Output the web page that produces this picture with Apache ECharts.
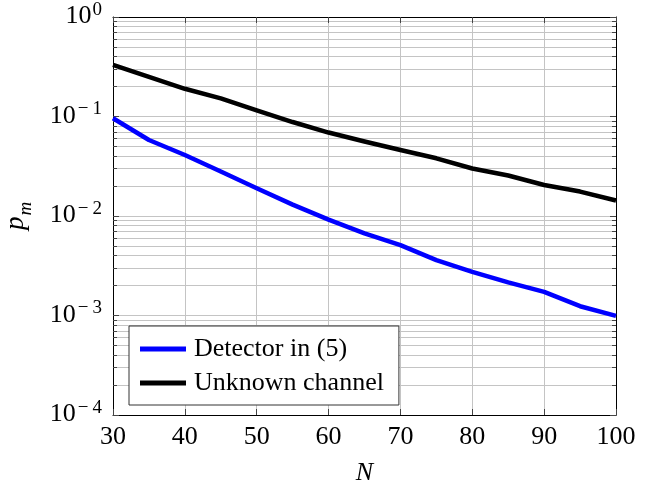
<!DOCTYPE html>
<html><head><meta charset="utf-8">
<script src="https://cdn.jsdelivr.net/npm/echarts@6/dist/echarts.min.js"></script>
<style>html,body{margin:0;padding:0;background:#fff}#c{width:648px;height:485px}</style>
</head><body><div id="c"></div>
<script>
const nValues = [30,35,40,45,50,55,60,65,70,75,80,85,90,95,100];
const detectorPm = [0.096,0.058,0.041,0.028,0.019,0.013,0.0092,0.0067,0.0051,0.0036,0.00275,0.00215,0.00173,0.00124,0.00099];
const unknownPm = [0.33,0.25,0.19,0.152,0.115,0.088,0.069,0.056,0.046,0.038,0.030,0.0255,0.0205,0.0176,0.0143];
const seriesNames = ['Detector in (5)','Unknown channel'];
const xRange = [30, 100];
const yRange = [1e-4, 1];

const FONT = 'Liberation Serif';
const chart = echarts.init(document.getElementById('c'));
function pairs(ys){ return nValues.map((x,i)=>[x, ys[i]]); }
function yFmt(v){
  const e = Math.round(Math.log10(v));
  return e < 0 ? '{b|10}{m|\u2212}{e|' + (-e) + '}' : '{b|10}{e|' + e + '}';
}
const gridLine = {show:true, lineStyle:{color:'#c4c4c4', width:1}};
const tickIn = {show:true, inside:true, length:6, lineStyle:{color:'#444', width:1}};
const minorTickIn = {show:true, splitNumber:9, length:4, lineStyle:{color:'#444', width:1}};
chart.setOption({
  animation:false,
  backgroundColor:'#fff',
  grid:{left:113, right:32, top:17, bottom:70, containLabel:false, outerBoundsMode:'none'},
  legend:{
    orient:'vertical', left:129, top:326,
    backgroundColor:'#fff', borderColor:'#333', borderWidth:1,
    padding:[10,15,9,11], itemGap:8,
    itemWidth:46, itemHeight:5, icon:'rect',
    textStyle:{fontFamily:FONT, fontSize:26, color:'#000', lineHeight:25, padding:[0,0,0,3]},
    data:seriesNames
  },
  xAxis:[{
    type:'value', min:xRange[0], max:xRange[1], interval:10,
    name:'N', nameLocation:'middle', nameGap:45,
    nameTextStyle:{fontFamily:FONT, fontStyle:'italic', fontSize:26, color:'#000'},
    axisLine:{show:true, onZero:false, lineStyle:{color:'#000', width:1}},
    axisTick:tickIn,
    axisLabel:{fontFamily:FONT, fontSize:26, color:'#000', margin:9},
    splitLine:gridLine
  },{
    type:'value', position:'top', min:xRange[0], max:xRange[1], interval:10,
    axisLine:{show:true, onZero:false, lineStyle:{color:'#000', width:1}},
    axisTick:tickIn, axisLabel:{show:false}, splitLine:{show:false}
  }],
  yAxis:[{
    type:'log', logBase:10, min:yRange[0], max:yRange[1],
    name:'{p|p}{m|m}', nameLocation:'middle', nameGap:84,
    nameTextStyle:{rich:{
      p:{fontFamily:FONT, fontStyle:'italic', fontSize:27, color:'#000', lineHeight:26, verticalAlign:'bottom'},
      m:{fontFamily:FONT, fontStyle:'italic', fontSize:19, color:'#000', lineHeight:18, verticalAlign:'bottom', padding:[0,0,-6,1]}
    }},
    axisLine:{show:true, onZero:false, lineStyle:{color:'#000', width:1}},
    axisTick:tickIn,
    minorTick:minorTickIn,
    axisLabel:{formatter:yFmt, margin:11, rich:{
      b:{fontFamily:FONT, fontSize:26, color:'#000', lineHeight:25, verticalAlign:'bottom', padding:[8,0,0,0]},
      m:{fontFamily:FONT, fontSize:19, color:'#000', lineHeight:18, verticalAlign:'bottom', padding:[0,3,10,2]},
      e:{fontFamily:FONT, fontSize:19, color:'#000', lineHeight:18, verticalAlign:'bottom', padding:[0,0,10,1]}
    }},
    splitLine:gridLine,
    minorSplitLine:gridLine
  },{
    type:'log', logBase:10, min:yRange[0], max:yRange[1], position:'right',
    axisLine:{show:true, onZero:false, lineStyle:{color:'#000', width:1}},
    axisTick:tickIn, minorTick:minorTickIn,
    axisLabel:{show:false}, splitLine:{show:false}
  }],
  series:[
    {name:seriesNames[0], type:'line', data:pairs(detectorPm), showSymbol:false, symbol:'none',
     lineStyle:{color:'#0000ff', width:4.5, join:'round'}, itemStyle:{color:'#0000ff'}, z:3},
    {name:seriesNames[1], type:'line', data:pairs(unknownPm), showSymbol:false, symbol:'none',
     lineStyle:{color:'#000', width:4.5, join:'round'}, itemStyle:{color:'#000'}, z:4}
  ]
});
</script></body></html>
